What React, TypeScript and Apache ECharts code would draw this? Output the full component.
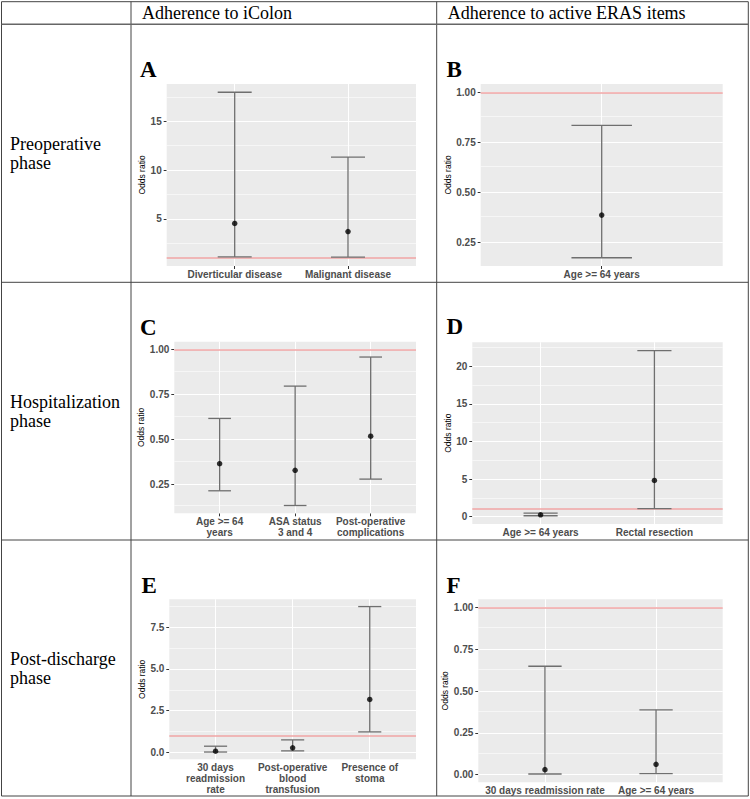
import React, { useEffect, useRef } from "react";
import * as echarts from "echarts";

// ---------- data ----------
const headers = ["Adherence to iColon", "Adherence to active ERAS items"];
const phases = ["Preoperative\nphase", "Hospitalization\nphase", "Post-discharge\nphase"];
const letters = ["A", "B", "C", "D", "E", "F"];
const refLine = 1;

const catsA = ["Diverticular disease", "Malignant disease"];
const orA = [4.52, 3.69];
const lowA = [1.08, 1.07];
const highA = [17.98, 11.33];
const ticksA = [5, 10, 15];

const catsB = ["Age >= 64 years"];
const orB = [0.386];
const lowB = [0.173];
const highB = [0.835];
const ticksB = [0.25, 0.5, 0.75, 1.0];

const catsC = ["Age >= 64\nyears", "ASA status\n3 and 4", "Post-operative\ncomplications"];
const orC = [0.364, 0.327, 0.517];
const lowC = [0.213, 0.131, 0.278];
const highC = [0.616, 0.796, 0.958];
const ticksC = [0.25, 0.5, 0.75, 1.0];

const catsD = ["Age >= 64 years", "Rectal resection"];
const orD = [0.26, 4.83];
const lowD = [0.13, 1.08];
const highD = [0.48, 22.1];
const ticksD = [0, 5, 10, 15, 20];

const catsE = ["30 days\nreadmission\nrate", "Post-operative\nblood\ntransfusion", "Presence of\nstoma"];
const orE = [0.06, 0.26, 3.17];
const lowE = [0.01, 0.08, 1.22];
const highE = [0.36, 0.74, 8.75];
const ticksE = [0, 2.5, 5, 7.5];

const catsF = ["30 days readmission rate", "Age >= 64 years"];
const orF = [0.03, 0.062];
const lowF = [0.004, 0.006];
const highF = [0.649, 0.388];
const ticksF = [0, 0.25, 0.5, 0.75, 1.0];

// ---------- layout (positions only) ----------
const panels = [
  { cats: catsA, or: orA, lo: lowA, hi: highA, ticks: ticksA, dec: 0, box: [166.7, 84, 249.3, 182], nameGap: 16.5, letter: [140, 69.5] },
  { cats: catsB, or: orB, lo: lowB, hi: highB, ticks: ticksB, dec: 2, box: [480.7, 84, 242, 182], nameGap: 24.5, letter: [446.5, 69.5] },
  { cats: catsC, or: orC, lo: lowC, hi: highC, ticks: ticksC, dec: 2, box: [174.3, 341.7, 241.7, 171.6], nameGap: 24, letter: [140, 327.5] },
  { cats: catsD, or: orD, lo: lowD, hi: highD, ticks: ticksD, dec: 0, box: [472.3, 342.3, 250.4, 181.7], nameGap: 16, letter: [446.5, 326.5] },
  { cats: catsE, or: orE, lo: lowE, hi: highE, ticks: ticksE, dec: 1, box: [169.3, 599.3, 246.7, 160], nameGap: 19, letter: [141.5, 585] },
  { cats: catsF, or: orF, lo: lowF, hi: highF, ticks: ticksF, dec: 2, box: [478.3, 599.3, 244.4, 183], nameGap: 22, letter: [446.5, 585] },
];

const TABLE = { left: 1.5, right: 748.3, top: 1.7, bottom: 796, colX: [131, 436.7], rowY: [24.3, 282.3, 540] };

const SANS = "Liberation Sans, Arial, sans-serif";
const SERIF = "Liberation Serif, Times New Roman, serif";

function buildOption() {
  const grid: any[] = [];
  const xAxis: any[] = [];
  const yAxis: any[] = [];
  const series: any[] = [];

  panels.forEach((p, i) => {
    const n = p.cats.length;
    const lo = Math.min(refLine, ...p.lo);
    const hi = Math.max(refLine, ...p.hi);
    const pad = (hi - lo) * 0.05;
    const yMin = lo - pad;
    const yMax = hi + pad;
    const step = p.ticks[1] - p.ticks[0];
    const minors: number[] = [];
    const candidates = [p.ticks[0] - step / 2, ...p.ticks.map((t) => t + step / 2)];
    candidates.forEach((m) => {
      if (m > yMin && m < yMax) minors.push(m);
    });
    const xs = p.cats.map((_, j) => j + 1);

    grid.push({
      left: p.box[0],
      top: p.box[1],
      width: p.box[2],
      height: p.box[3],
      show: true,
      backgroundColor: "#ebebeb",
      borderWidth: 0,
    });
    xAxis.push({
      gridIndex: i,
      type: "value",
      min: 0.4,
      max: n + 0.6,
      axisLine: { show: false },
      splitLine: { show: false },
      axisTick: { show: true, length: 3, customValues: xs, lineStyle: { color: "#333", width: 1 } },
      axisLabel: {
        customValues: xs,
        margin: 2.5,
        formatter: (v: number) => p.cats[Math.round(v) - 1] ?? "",
        color: "#4d4d4d",
        fontWeight: "bold",
        fontSize: 10,
        lineHeight: 11,
        fontFamily: SANS,
      },
    });
    yAxis.push({
      gridIndex: i,
      type: "value",
      min: yMin,
      max: yMax,
      axisLine: { show: false },
      splitLine: { show: false },
      axisTick: { show: true, length: 3, customValues: p.ticks, lineStyle: { color: "#333", width: 1 } },
      axisLabel: {
        customValues: p.ticks,
        margin: 5,
        formatter: (v: number) => v.toFixed(p.dec),
        color: "#4d4d4d",
        fontWeight: "bold",
        fontSize: 10,
        fontFamily: SANS,
      },
      name: "Odds ratio",
      nameLocation: "middle",
      nameGap: p.nameGap,
      nameTextStyle: { color: "#000", fontSize: 8.5, fontFamily: SANS },
    });

    const major = { color: "#ffffff", width: 1.1, type: "solid" };
    const minor = { color: "#ffffff", width: 0.55, type: "solid" };
    series.push({
      type: "scatter",
      xAxisIndex: i,
      yAxisIndex: i,
      data: [],
      z: 1,
      silent: true,
      markLine: {
        z: 1,
        silent: true,
        symbol: ["none", "none"],
        label: { show: false },
        emphasis: { disabled: true },
        data: [
          ...minors.map((v) => ({ yAxis: v, lineStyle: minor })),
          ...p.ticks.map((v) => ({ yAxis: v, lineStyle: major })),
          ...xs.map((v) => ({ xAxis: v, lineStyle: major })),
        ],
      },
    });
    series.push({
      type: "scatter",
      xAxisIndex: i,
      yAxisIndex: i,
      data: [],
      z: 2,
      silent: true,
      markLine: {
        z: 2,
        silent: true,
        symbol: ["none", "none"],
        label: { show: false },
        emphasis: { disabled: true },
        data: [{ yAxis: refLine, lineStyle: { color: "#f1a4a4", width: 1.6, type: "solid" } }],
      },
    });
    series.push({
      type: "custom",
      xAxisIndex: i,
      yAxisIndex: i,
      z: 6,
      silent: true,
      data: p.cats.map((_, j) => [j + 1, p.lo[j], p.hi[j]]),
      encode: { x: 0, y: [1, 2] },
      renderItem: (params: any, api: any) => {
        const x = api.value(0);
        const a = api.coord([x, api.value(1)]);
        const b = api.coord([x, api.value(2)]);
        const hw = api.size([0.3, 0])[0] / 2;
        const style = { stroke: "#6f6f6f", lineWidth: 1.3 };
        return {
          type: "group",
          children: [
            { type: "line", shape: { x1: a[0], y1: a[1], x2: b[0], y2: b[1] }, style },
            { type: "line", shape: { x1: a[0] - hw, y1: a[1], x2: a[0] + hw, y2: a[1] }, style },
            { type: "line", shape: { x1: b[0] - hw, y1: b[1], x2: b[0] + hw, y2: b[1] }, style },
          ],
        };
      },
    });
    series.push({
      type: "scatter",
      xAxisIndex: i,
      yAxisIndex: i,
      z: 7,
      silent: true,
      symbol: "circle",
      symbolSize: 5.5,
      itemStyle: { color: "#000" },
      data: p.or.map((v, j) => [j + 1, v]),
    });
  });

  const lineStyle = { stroke: "#444", lineWidth: 1 };
  const graphic: any[] = [];
  const T = TABLE;
  graphic.push({ type: "line", shape: { x1: T.left, y1: T.top, x2: T.right, y2: T.top }, style: lineStyle });
  graphic.push({ type: "line", shape: { x1: T.left, y1: T.bottom, x2: T.right, y2: T.bottom }, style: lineStyle });
  graphic.push({ type: "line", shape: { x1: T.left, y1: T.top, x2: T.left, y2: T.bottom }, style: lineStyle });
  graphic.push({ type: "line", shape: { x1: T.right, y1: T.top, x2: T.right, y2: T.bottom }, style: lineStyle });
  T.colX.forEach((x) =>
    graphic.push({ type: "line", shape: { x1: x, y1: T.top, x2: x, y2: T.bottom }, style: lineStyle })
  );
  T.rowY.forEach((y, k) =>
    graphic.push({
      type: "line",
      shape: { x1: T.left, y1: y, x2: T.right, y2: y },
      style: k === 0 ? { stroke: "#666", lineWidth: 1.6 } : lineStyle,
    })
  );
  headers.forEach((h, k) =>
    graphic.push({
      type: "text",
      x: T.colX[k] + 11,
      y: 13,
      style: { text: h, fontSize: 18, fontFamily: SERIF, fill: "#000", align: "left", verticalAlign: "middle" },
    })
  );
  const rowBounds = [T.rowY[0], T.rowY[1], T.rowY[2], T.bottom];
  phases.forEach((ph, k) =>
    graphic.push({
      type: "text",
      x: 10,
      y: (rowBounds[k] + rowBounds[k + 1]) / 2,
      style: {
        text: ph,
        fontSize: 18,
        lineHeight: 19,
        fontFamily: SERIF,
        fill: "#000",
        align: "left",
        verticalAlign: "middle",
      },
    })
  );
  panels.forEach((p, i) =>
    graphic.push({
      type: "text",
      x: p.letter[0],
      y: p.letter[1],
      style: {
        text: letters[i],
        fontSize: 23,
        fontWeight: "bold",
        fontFamily: SERIF,
        fill: "#000",
        align: "left",
        verticalAlign: "middle",
      },
    })
  );

  return {
    animation: false,
    backgroundColor: "#ffffff",
    textStyle: { fontFamily: SANS },
    grid,
    xAxis,
    yAxis,
    series,
    graphic,
  };
}

export default function App() {
  const ref = useRef<HTMLDivElement>(null);
  useEffect(() => {
    if (!ref.current) return;
    const chart = echarts.init(ref.current, undefined, { renderer: "svg" });
    chart.setOption(buildOption() as any);
    return () => chart.dispose();
  }, []);
  return (
    <div
      ref={ref}
      style={{ position: "fixed", left: 0, top: 0, width: 750, height: 799, background: "#fff" }}
    />
  );
}
